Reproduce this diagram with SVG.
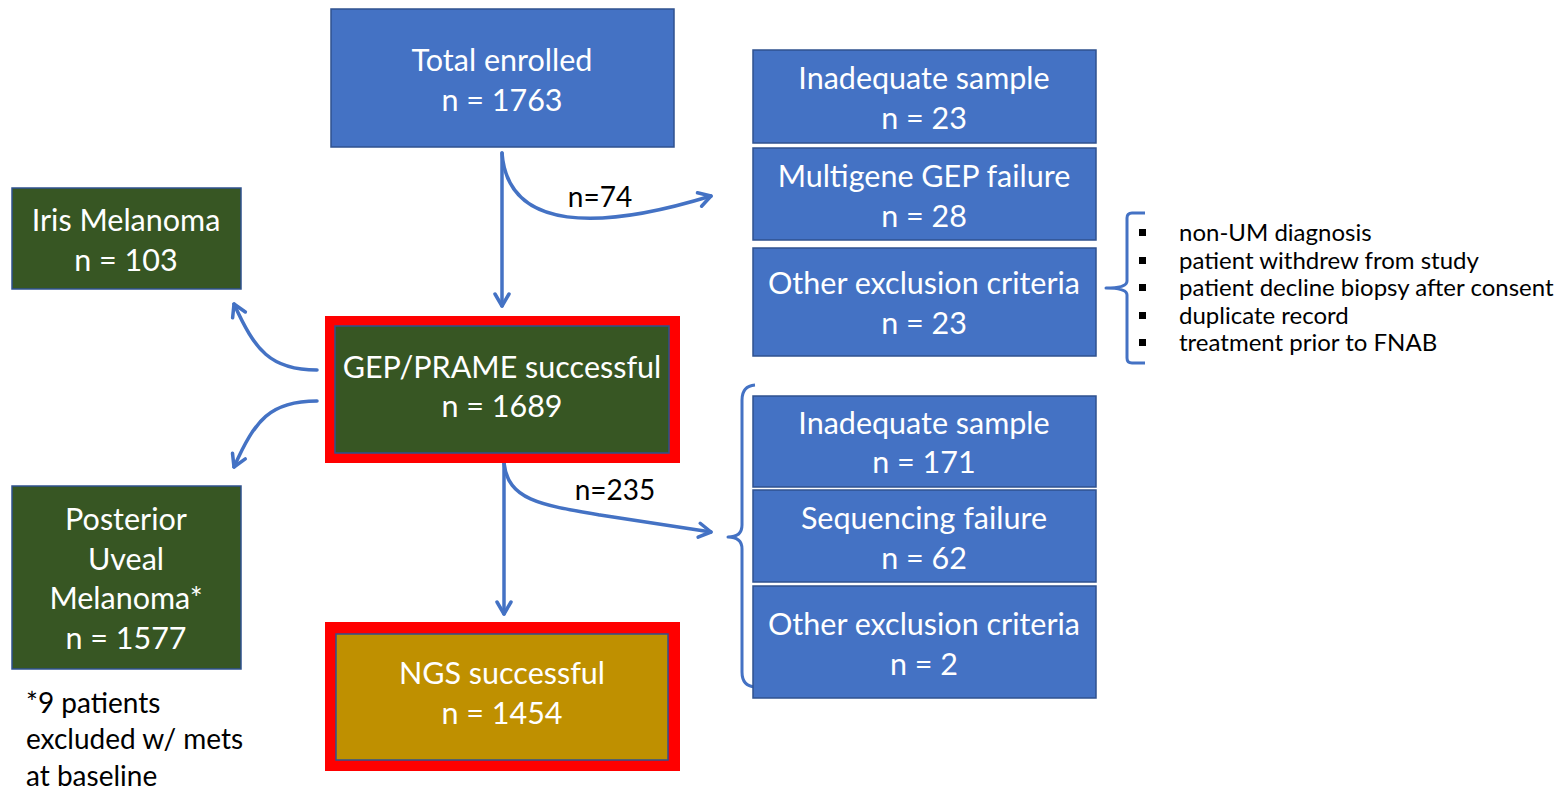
<svg xmlns="http://www.w3.org/2000/svg" width="1564" height="789" viewBox="0 0 1564 789">
  <style>
    .box { fill: #4472C4; stroke: #2F528F; stroke-width: 1.5; }
    .green { fill: #375623; stroke: #2F528F; stroke-width: 1.5; }
    .gold { fill: #BF9000; stroke: #2F528F; stroke-width: 1.5; }
    .hl { fill: #FF0000; }
    .lbl { font-family: Lato, "Liberation Sans", sans-serif; font-size: 30.5px; fill: #FFFFFF; text-anchor: middle; dominant-baseline: central; }
    .note { font-family: Lato, "Liberation Sans", sans-serif; fill: #000000; }
    .conn { fill: none; stroke: #4472C4; stroke-width: 3.5; stroke-linecap: round; }
    .brace { fill: none; stroke: #4472C4; stroke-width: 3; stroke-linejoin: round; }
  </style>
  <defs>
    <marker id="arrow" viewBox="0 0 20 20" refX="16" refY="10" markerWidth="20" markerHeight="20" markerUnits="userSpaceOnUse" orient="auto">
      <path d="M4,3 L16,10 L4,17" fill="none" stroke="#4472C4" stroke-width="3.5" stroke-linecap="round" stroke-linejoin="round"/>
    </marker>
  </defs>

  <rect width="1564" height="789" fill="#FFFFFF"/>

  <!-- connectors -->
  <g id="connectors">
    <path class="conn" d="M502,153 L502,306" marker-end="url(#arrow)"/>
    <path class="conn" d="M502,153 C508,232 600,230 711,196" marker-end="url(#arrow)"/>
    <path class="conn" d="M317,370 C270,370 255,350 234,304" marker-end="url(#arrow)"/>
    <path class="conn" d="M317,401 C270,401 255,420 234,467" marker-end="url(#arrow)"/>
    <path class="conn" d="M504,463 L504,614" marker-end="url(#arrow)"/>
    <path class="conn" d="M504,463 C508,500 540,505 600,515 L711,532" marker-end="url(#arrow)"/>
    <text class="note" x="600" y="207" font-size="28" text-anchor="middle">n=74</text>
    <text class="note" x="615" y="500" font-size="28" text-anchor="middle">n=235</text>
  </g>

  <!-- main flow -->
  <g id="total-enrolled">
    <rect class="box" x="331" y="9" width="343" height="138"/>
    <text class="lbl" x="502" y="59">Total enrolled</text>
    <text class="lbl" x="502" y="99">n = 1763</text>
  </g>

  <g id="gep-prame">
    <rect class="hl" x="325" y="316" width="355" height="147"/>
    <rect class="green" x="335" y="326" width="334" height="127"/>
    <text class="lbl" x="502" y="366">GEP/PRAME successful</text>
    <text class="lbl" x="502" y="405">n = 1689</text>
  </g>

  <g id="ngs">
    <rect class="hl" x="325" y="622" width="355" height="149"/>
    <rect class="gold" x="336" y="634" width="332" height="126"/>
    <text class="lbl" x="502" y="672">NGS successful</text>
    <text class="lbl" x="502" y="712">n = 1454</text>
  </g>

  <!-- anatomical split -->
  <g id="iris">
    <rect class="green" x="12" y="188" width="229" height="101"/>
    <text class="lbl" x="126" y="219">Iris Melanoma</text>
    <text class="lbl" x="126" y="259">n = 103</text>
  </g>

  <g id="posterior">
    <rect class="green" x="12" y="486" width="229" height="183"/>
    <text class="lbl" x="126" y="518">Posterior</text>
    <text class="lbl" x="126" y="558">Uveal</text>
    <text class="lbl" x="126" y="597">Melanoma*</text>
    <text class="lbl" x="126" y="637">n = 1577</text>
  </g>

  <g id="footnote">
    <text class="note" font-size="28" x="26" y="713">*9 patients</text>
    <text class="note" font-size="28" x="26" y="749">excluded w/ mets</text>
    <text class="note" font-size="28" x="26" y="786">at baseline</text>
  </g>

  <!-- exclusions before GEP -->
  <g id="excl-inadequate-1">
    <rect class="box" x="753" y="50" width="343" height="93"/>
    <text class="lbl" x="924" y="77">Inadequate sample</text>
    <text class="lbl" x="924" y="117">n = 23</text>
  </g>
  <g id="excl-gep-failure">
    <rect class="box" x="753" y="148" width="343" height="92"/>
    <text class="lbl" x="924" y="175">Multigene GEP failure</text>
    <text class="lbl" x="924" y="215">n = 28</text>
  </g>
  <g id="excl-other-1">
    <rect class="box" x="753" y="248" width="343" height="108"/>
    <text class="lbl" x="924" y="282">Other exclusion criteria</text>
    <text class="lbl" x="924" y="322">n = 23</text>
  </g>

  <g id="other-reasons">
    <path class="brace" d="M1145,213 L1132,213 Q1127,213 1127,218 L1127,281 Q1127,288 1106,288 Q1127,288 1127,295 L1127,358 Q1127,363 1132,363 L1145,363"/>
    <g fill="#000000">
      <rect x="1139" y="229" width="7" height="7"/>
      <rect x="1139" y="257" width="7" height="7"/>
      <rect x="1139" y="284" width="7" height="7"/>
      <rect x="1139" y="312" width="7" height="7"/>
      <rect x="1139" y="339" width="7" height="7"/>
    </g>
    <g class="note" font-size="24">
      <text x="1179" y="241">non-UM diagnosis</text>
      <text x="1179" y="269">patient withdrew from study</text>
      <text x="1179" y="296">patient decline biopsy after consent</text>
      <text x="1179" y="324">duplicate record</text>
      <text x="1179" y="351">treatment prior to FNAB</text>
    </g>
  </g>

  <!-- exclusions before NGS -->
  <path class="brace" d="M755,385 Q742,386 742,400 L742,525 Q742,537 728,537 Q742,537 742,549 L742,672 Q742,686 755,687"/>
  <g id="excl-inadequate-2">
    <rect class="box" x="753" y="396" width="343" height="91"/>
    <text class="lbl" x="924" y="422">Inadequate sample</text>
    <text class="lbl" x="924" y="461">n = 171</text>
  </g>
  <g id="excl-seq-failure">
    <rect class="box" x="753" y="490" width="343" height="92"/>
    <text class="lbl" x="924" y="517">Sequencing failure</text>
    <text class="lbl" x="924" y="557">n = 62</text>
  </g>
  <g id="excl-other-2">
    <rect class="box" x="753" y="586" width="343" height="112"/>
    <text class="lbl" x="924" y="623">Other exclusion criteria</text>
    <text class="lbl" x="924" y="663">n = 2</text>
  </g>
</svg>
